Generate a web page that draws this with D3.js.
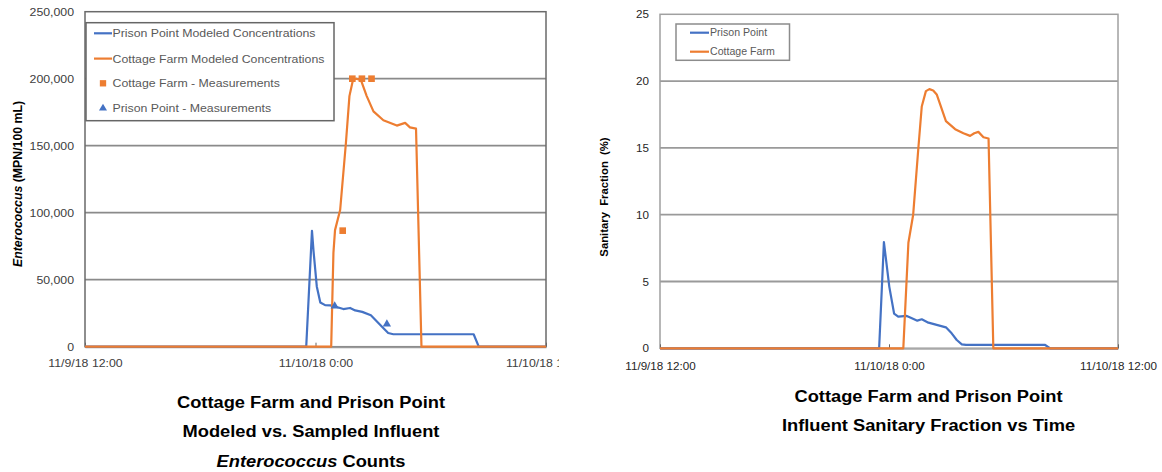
<!DOCTYPE html>
<html>
<head>
<meta charset="utf-8">
<script src="https://cdn.jsdelivr.net/npm/d3@7"></script>
<style>
  body { margin: 0; background: #fff; }
  svg { display: block; }
  text { font-family: "Liberation Sans", Arial, Helvetica, sans-serif; }
</style>
</head>
<body>
<svg id="chart" width="1162" height="472"></svg>
<script>
// ---- shared time axis ----
const timeDomain = ["2018-11-09 12:00", "2018-11-10 12:00"];
const timeTicks = ["2018-11-09 12:00", "2018-11-10 00:00", "2018-11-10 12:00"];

// ---- Enterococcus (MPN/100 mL) ----
const ppEntTimes = ["2018-11-09 12:00", "2018-11-09 23:31", "2018-11-09 23:49", "2018-11-09 23:54",
  "2018-11-10 00:04", "2018-11-10 00:15", "2018-11-10 00:30", "2018-11-10 00:46", "2018-11-10 01:01",
  "2018-11-10 01:27", "2018-11-10 01:48", "2018-11-10 02:04", "2018-11-10 02:26", "2018-11-10 02:53",
  "2018-11-10 03:27", "2018-11-10 03:47", "2018-11-10 04:03", "2018-11-10 08:14", "2018-11-10 08:30",
  "2018-11-10 12:00"];
const ppEntValues = [0, 0, 86500, 71000, 45000, 33000, 31000, 30800, 30000, 28100, 28900, 27100,
  26000, 23500, 15100, 10200, 9300, 9300, 0, 0];

const cfEntTimes = ["2018-11-09 12:00", "2018-11-10 00:49", "2018-11-10 00:56", "2018-11-10 01:01",
  "2018-11-10 01:17", "2018-11-10 01:35", "2018-11-10 01:46", "2018-11-10 01:57", "2018-11-10 02:07",
  "2018-11-10 02:22", "2018-11-10 02:40", "2018-11-10 03:01", "2018-11-10 03:32", "2018-11-10 04:14",
  "2018-11-10 04:40", "2018-11-10 04:55", "2018-11-10 05:14", "2018-11-10 05:31", "2018-11-10 12:00"];
const cfEntValues = [0, 0, 70000, 87000, 102000, 152000, 187000, 199000, 200000, 199000, 187000,
  175600, 169000, 165000, 167000, 163700, 162700, 0, 0];

const cfSampleTimes = ["2018-11-10 01:25", "2018-11-10 01:55", "2018-11-10 02:25", "2018-11-10 02:55"];
const cfSampleValues = [86600, 200000, 200000, 200000];
const ppSampleTimes = ["2018-11-10 01:00", "2018-11-10 03:43"];
const ppSampleValues = [30300, 16900];

const entTicks = [0, 50000, 100000, 150000, 200000, 250000];
const entLegend = ["Prison Point Modeled Concentrations", "Cottage Farm Modeled Concentrations",
  "Cottage Farm - Measurements", "Prison Point - Measurements"];
const entTitle = ["Cottage Farm and Prison Point", "Modeled vs. Sampled Influent"];

// ---- Sanitary fraction (%) ----
const ppSanTimes = ["2018-11-09 12:00", "2018-11-09 23:29", "2018-11-09 23:44", "2018-11-10 00:01",
  "2018-11-10 00:16", "2018-11-10 00:29", "2018-11-10 00:56", "2018-11-10 01:12", "2018-11-10 01:29",
  "2018-11-10 01:43", "2018-11-10 02:04", "2018-11-10 02:30", "2018-11-10 02:59", "2018-11-10 03:17",
  "2018-11-10 03:33", "2018-11-10 03:49", "2018-11-10 04:02", "2018-11-10 08:11", "2018-11-10 08:27",
  "2018-11-10 12:00"];
const ppSanValues = [0, 0, 7.95, 4.6, 2.6, 2.37, 2.42, 2.25, 2.07, 2.17, 1.92, 1.75, 1.57, 1.12,
  0.62, 0.3, 0.25, 0.25, 0, 0];

const cfSanTimes = ["2018-11-09 12:00", "2018-11-10 00:45", "2018-11-10 01:01", "2018-11-10 01:16",
  "2018-11-10 01:32", "2018-11-10 01:43", "2018-11-10 01:56", "2018-11-10 02:07", "2018-11-10 02:19",
  "2018-11-10 02:30", "2018-11-10 02:59", "2018-11-10 03:28", "2018-11-10 03:54", "2018-11-10 04:15",
  "2018-11-10 04:28", "2018-11-10 04:41", "2018-11-10 04:57", "2018-11-10 05:13", "2018-11-10 05:28",
  "2018-11-10 12:00"];
const cfSanValues = [0, 0, 7.9, 10, 14.9, 18.1, 19.25, 19.4, 19.3, 19.0, 17.0, 16.4, 16.1, 15.9,
  16.1, 16.2, 15.8, 15.7, 0, 0];

const sanTicks = [0, 5, 10, 15, 20, 25];
const sanLegend = ["Prison Point", "Cottage Farm"];
const sanTitle = ["Cottage Farm and Prison Point", "Influent Sanitary Fraction vs Time"];

// ---- drawing ----
const BLUE = "#4472C4", ORANGE = "#ED7D31";
const parse = d3.timeParse("%Y-%m-%d %H:%M");
const fmtTime = d3.timeFormat("%-m/%-d/%y %-H:%M");
const zip = (ts, vs) => ts.map((t, i) => ({ t: parse(t), v: vs[i] }));

const svg = d3.select("#chart");
const defs = svg.append("defs");
defs.append("clipPath").attr("id", "leftClip")
  .append("rect").attr("x", 0).attr("y", 0).attr("width", 559).attr("height", 472);

// text helper: places a label and widens it horizontally
function label(g, x, y, k, str, opts) {
  const t = g.append("text")
    .attr("transform", `translate(${x},${y}) scale(${k},1)`)
    .attr("text-anchor", opts.anchor || "start")
    .attr("font-size", opts.size)
    .attr("font-weight", opts.weight || "normal")
    .attr("fill", opts.fill || "#000");
  if (opts.italic) t.attr("font-style", "italic");
  t.text(str);
  return t;
}

function drawPanel(cfg) {
  const g = svg.append("g");
  if (cfg.clip) g.attr("clip-path", `url(#${cfg.clip})`);
  const x = d3.scaleTime().domain(timeDomain.map(parse)).range([cfg.left, cfg.right]);
  const y = d3.scaleLinear().domain([cfg.ticks[0], cfg.ticks[cfg.ticks.length - 1]])
    .range([cfg.bottom, cfg.top]);

  // horizontal gridlines
  g.append("g").selectAll("line").data(cfg.ticks.slice(1, -1)).join("line")
    .attr("x1", cfg.left).attr("x2", cfg.right)
    .attr("y1", d => y(d)).attr("y2", d => y(d))
    .attr("stroke", cfg.grid).attr("stroke-width", 1.8);

  // plot border
  g.append("rect").attr("x", cfg.left).attr("y", cfg.top)
    .attr("width", cfg.right - cfg.left).attr("height", cfg.bottom - cfg.top)
    .attr("fill", "none").attr("stroke", cfg.border).attr("stroke-width", 1.5);

  // x axis
  const xa = g.append("g").attr("transform", `translate(0,${cfg.bottom})`)
    .call(d3.axisBottom(x).tickValues(timeTicks.map(parse)).tickFormat(fmtTime)
      .tickSizeInner(-4).tickSizeOuter(0).tickPadding(cfg.xPad));
  xa.select(".domain").attr("stroke", cfg.axis).attr("stroke-width", 2);
  xa.selectAll(".tick line").attr("stroke", "#666").attr("stroke-width", 1);
  xa.selectAll(".tick text").attr("font-size", cfg.tickSize).attr("fill", cfg.tickFill)
    .attr("font-family", null).attr("transform", `scale(${cfg.k},1)`);

  // y axis
  const ya = g.append("g").attr("transform", `translate(${cfg.left},0)`)
    .call(d3.axisLeft(y).tickValues(cfg.ticks).tickFormat(cfg.yFmt).tickSize(0).tickPadding(0));
  ya.select(".domain").remove();
  ya.selectAll(".tick text").attr("font-size", cfg.tickSize).attr("fill", cfg.tickFill)
    .attr("font-family", null).attr("x", -cfg.yPad / cfg.k)
    .attr("transform", `scale(${cfg.k},1)`);

  // series lines
  const line = d3.line().x(d => x(d.t)).y(d => y(d.v));
  cfg.series.forEach(s => {
    g.append("path").datum(zip(s.times, s.values)).attr("d", line)
      .attr("fill", "none").attr("stroke", s.color).attr("stroke-width", 2.2)
      .attr("stroke-linejoin", "round");
  });

  // sampled points
  (cfg.points || []).forEach(p => {
    g.append("g").selectAll("path").data(zip(p.times, p.values)).join("path")
      .attr("transform", d => `translate(${x(d.t)},${y(d.v)})`)
      .attr("d", d3.symbol().type(p.shape).size(p.size)())
      .attr("fill", p.color);
  });

  // legend
  const lg = cfg.legend;
  g.append("rect").attr("x", lg.x0).attr("y", lg.y0)
    .attr("width", lg.x1 - lg.x0).attr("height", lg.y1 - lg.y0)
    .attr("fill", "#fff").attr("stroke", lg.border).attr("stroke-width", 1.5);
  lg.items.forEach((it, i) => {
    const cy = lg.rows[i];
    if (it.kind === "line") {
      g.append("line").attr("x1", lg.sx0).attr("x2", lg.sx1).attr("y1", cy).attr("y2", cy)
        .attr("stroke", it.color).attr("stroke-width", 2.2);
    } else {
      g.append("path").attr("transform", `translate(${(lg.sx0 + lg.sx1) / 2},${cy})`)
        .attr("d", d3.symbol().type(it.shape).size(it.size)()).attr("fill", it.color);
    }
    label(g, lg.tx, cy + lg.size * 0.36, cfg.k, it.name, { size: lg.size, fill: "#595959" });
  });

  // y axis title
  const yt = g.append("text")
    .attr("transform", `translate(${cfg.yTitle.x},${cfg.yTitle.y}) rotate(-90)`)
    .attr("text-anchor", "middle").attr("font-size", cfg.yTitle.size)
    .attr("font-weight", "bold").attr("fill", "#000").style("white-space", "pre");
  cfg.yTitle.parts.forEach(p => {
    const ts = yt.append("tspan").text(p.text);
    if (p.italic) ts.attr("font-style", "italic");
  });

  return g;
}

// left panel: Enterococcus counts
drawPanel({
  clip: "leftClip",
  left: 85, right: 546, top: 11.7, bottom: 346.7,
  ticks: entTicks, yFmt: d3.format(","), k: 1.12, tickSize: 11, tickFill: "#404040",
  xPad: 12, yPad: 11, grid: "#8a8a8a", border: "#6a6a6a", axis: "#9a9a9a",
  series: [
    { times: ppEntTimes, values: ppEntValues, color: BLUE },
    { times: cfEntTimes, values: cfEntValues, color: ORANGE }
  ],
  points: [
    { times: cfSampleTimes, values: cfSampleValues, color: ORANGE, shape: d3.symbolSquare, size: 44 },
    { times: ppSampleTimes, values: ppSampleValues, color: BLUE, shape: d3.symbolTriangle, size: 30 }
  ],
  legend: {
    x0: 86, x1: 334, y0: 22.7, y1: 120.7, border: "#666",
    sx0: 94, sx1: 112, tx: 112.5, size: 11, rows: [33.3, 58.6, 83.3, 108.3],
    items: [
      { name: entLegend[0], kind: "line", color: BLUE },
      { name: entLegend[1], kind: "line", color: ORANGE },
      { name: entLegend[2], kind: "mark", shape: d3.symbolSquare, size: 40, color: ORANGE },
      { name: entLegend[3], kind: "mark", shape: d3.symbolTriangle, size: 28, color: BLUE }
    ]
  },
  yTitle: { x: 21.5, y: 184, size: 12.3, parts: [
    { text: "Enterococcus", italic: true }, { text: " (MPN/100 mL)" }] }
});

// right panel: sanitary fraction
drawPanel({
  left: 660, right: 1118, top: 14.3, bottom: 348.3,
  ticks: sanTicks, yFmt: d3.format("d"), k: 1.06, tickSize: 11, tickFill: "#262626",
  xPad: 14, yPad: 11, grid: "#9a9a9a", border: "#a0a0a0", axis: "#a8a8a8",
  series: [
    { times: ppSanTimes, values: ppSanValues, color: BLUE },
    { times: cfSanTimes, values: cfSanValues, color: ORANGE }
  ],
  legend: {
    x0: 676, x1: 789.5, y0: 24, y1: 60.3, border: "#8c8c8c",
    sx0: 690, sx1: 709, tx: 710, size: 10, rows: [32.7, 51.7],
    items: [
      { name: sanLegend[0], kind: "line", color: BLUE },
      { name: sanLegend[1], kind: "line", color: ORANGE }
    ]
  },
  yTitle: { x: 608, y: 197, size: 11.3, parts: [{ text: "Sanitary  Fraction  (%)" }] }
});

// chart titles below each panel
const titles = svg.append("g");
entTitle.forEach((s, i) =>
  label(titles, 311, 407.5 + i * 29.8, 1.076, s, { size: 17, weight: "bold", anchor: "middle" }));
const third = label(titles, 311, 467, 1.076, "", { size: 17, weight: "bold", anchor: "middle" });
third.append("tspan").attr("font-style", "italic").text("Enterococcus");
third.append("tspan").text(" Counts");
sanTitle.forEach((s, i) =>
  label(titles, 928.5, 401.5 + i * 29.6, 1.076, s, { size: 17, weight: "bold", anchor: "middle" }));
</script>
</body>
</html>
